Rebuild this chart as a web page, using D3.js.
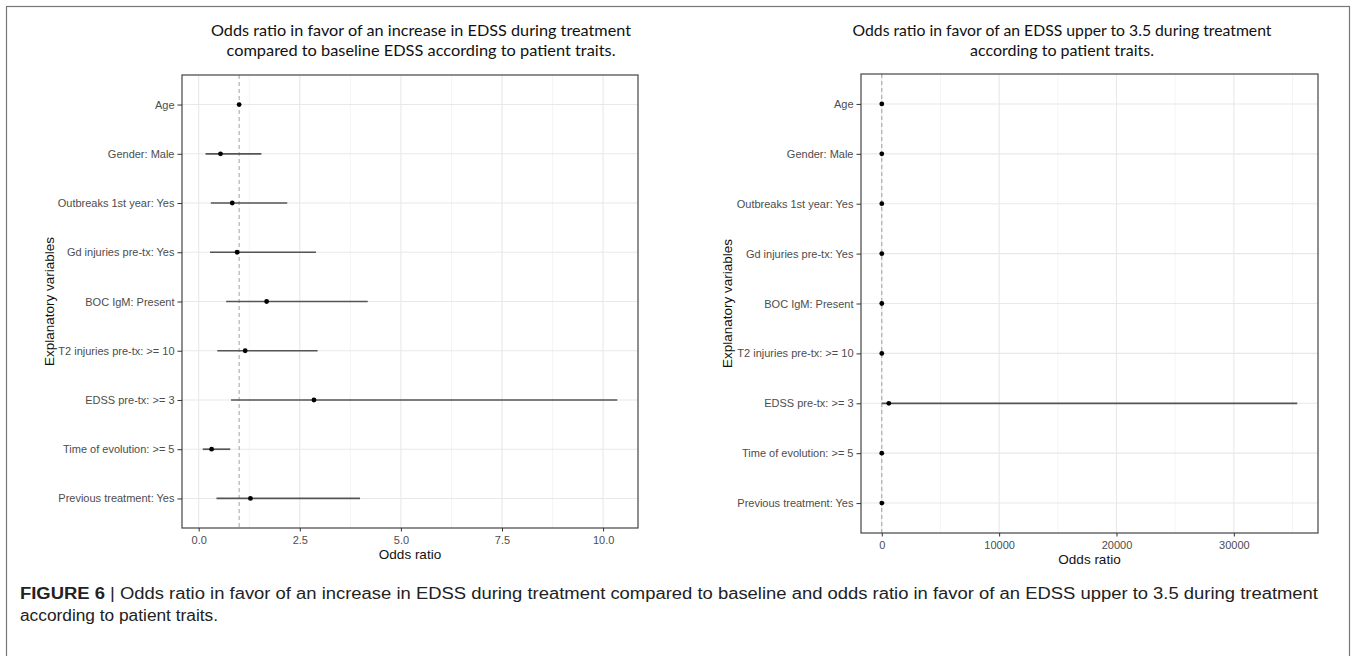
<!DOCTYPE html>
<html>
<head>
<meta charset="utf-8">
<script src="https://cdn.jsdelivr.net/npm/d3@7"></script>
<style>
  body { margin: 0; background: #fff; }
  svg { display: block; }
</style>
</head>
<body>
<div id="fig"></div>
<script>
// explanatory variables (top to bottom)
var variables = ["Age", "Gender: Male", "Outbreaks 1st year: Yes", "Gd injuries pre-tx: Yes",
                 "BOC IgM: Present", "T2 injuries pre-tx: >= 10", "EDSS pre-tx: >= 3",
                 "Time of evolution: >= 5", "Previous treatment: Yes"];

// left: increase in EDSS vs baseline
var orIncrease   = [1.00, 0.54, 0.83, 0.95, 1.68, 1.15, 2.85, 0.32, 1.28];
var lowIncrease  = [0.96, 0.17, 0.30, 0.28, 0.68, 0.46, 0.80, 0.10, 0.44];
var highIncrease = [1.04, 1.55, 2.19, 2.90, 4.18, 2.94, 10.35, 0.78, 3.99];
var ticksIncrease = [0, 2.5, 5, 7.5, 10];

// right: EDSS upper to 3.5
var orUpper   = [1.03, 0.60, 1.10, 1.20, 1.50, 1.30, 600, 0.40, 3.0];
var lowUpper  = [0.97, 0.05, 0.10, 0.10, 0.15, 0.12, 4.0, 0.02, 0.2];
var highUpper = [1.09, 6, 12, 15, 14, 13, 35400, 6, 220];
var ticksUpper = [0, 10000, 20000, 30000];

var titleIncrease = ["Odds ratio in favor of an increase in EDSS during treatment",
                     "compared to baseline EDSS according to patient traits."];
var titleUpper = ["Odds ratio in favor of an EDSS upper to 3.5 during treatment",
                  "according to patient traits."];

var W = 1357, H = 656;
var svg = d3.select('#fig').append('svg')
    .attr('width', W).attr('height', H);

// figure frame
svg.append('rect')
   .attr('x', 6.5).attr('y', 6.5)
   .attr('width', 1343).attr('height', 670)
   .attr('fill', 'none').attr('stroke', '#777').attr('stroke-width', 1.2);

var panels = [
    {title: titleIncrease, titleX: 421, titleLen: [420, 389],
     left: 182, right: 638, top: 75, bottom: 528, yTitleX: 49,
     or: orIncrease, lo: lowIncrease, hi: highIncrease,
     ticks: ticksIncrease, fmt: d3.format('.1f')},
    {title: titleUpper, titleX: 1062, titleLen: [419, null],
     left: 861, right: 1318, top: 74, bottom: 533, yTitleX: 727,
     or: orUpper, lo: lowUpper, hi: highUpper,
     ticks: ticksUpper, fmt: d3.format('d')}
];

panels.forEach(function(p) {
    var lo = d3.min(p.lo), hi = d3.max(p.hi);
    var pad = (hi - lo) * 0.05;
    var xScale = d3.scaleLinear().domain([lo - pad, hi + pad]).range([p.left, p.right]);
    var yScale = d3.scalePoint().domain(variables).range([p.top, p.bottom]).padding(0.6);

    // title
    p.title.forEach(function(t, i) {
        var tt = svg.append('text')
           .attr('x', p.titleX).attr('y', 36 + i * 20)
           .attr('text-anchor', 'middle')
           .style('font-family', 'Lato, "Open Sans", sans-serif')
           .style('font-size', '16px')
           .style('fill', '#111')
           .text(t);
        if (p.titleLen[i]) {
            tt.attr('textLength', p.titleLen[i]).attr('lengthAdjust', 'spacingAndGlyphs');
        }
    });

    var g = svg.append('g');

    // grid: minor then major
    var step = p.ticks[1] - p.ticks[0];
    var minors = d3.range(p.ticks[0] - step / 2, xScale.domain()[1], step)
                   .filter(function(v) { return v > xScale.domain()[0]; });
    g.selectAll('.minor').data(minors).join('line')
     .attr('x1', d => xScale(d)).attr('x2', d => xScale(d))
     .attr('y1', p.top).attr('y2', p.bottom)
     .attr('stroke', '#f2f2f2').attr('stroke-width', 0.8);
    g.selectAll('.vmajor').data(p.ticks).join('line')
     .attr('x1', d => xScale(d)).attr('x2', d => xScale(d))
     .attr('y1', p.top).attr('y2', p.bottom)
     .attr('stroke', '#e8e8e8').attr('stroke-width', 1.1);
    g.selectAll('.hmajor').data(variables).join('line')
     .attr('x1', p.left).attr('x2', p.right)
     .attr('y1', d => yScale(d)).attr('y2', d => yScale(d))
     .attr('stroke', '#e8e8e8').attr('stroke-width', 1.1);

    // reference line at OR = 1
    g.append('line')
     .attr('x1', xScale(1)).attr('x2', xScale(1))
     .attr('y1', p.top).attr('y2', p.bottom)
     .attr('stroke', '#a0a0a0').attr('stroke-width', 1)
     .attr('stroke-dasharray', '4,3');

    // confidence intervals and estimates
    g.selectAll('.ci').data(variables).join('line')
     .attr('x1', (d, i) => xScale(p.lo[i])).attr('x2', (d, i) => xScale(p.hi[i]))
     .attr('y1', d => yScale(d)).attr('y2', d => yScale(d))
     .attr('stroke', '#555').attr('stroke-width', 1.7);
    g.selectAll('.pt').data(variables).join('circle')
     .attr('cx', (d, i) => xScale(p.or[i])).attr('cy', d => yScale(d))
     .attr('r', 2.4).attr('fill', '#000');

    // panel border
    g.append('rect')
     .attr('x', p.left).attr('y', p.top)
     .attr('width', p.right - p.left).attr('height', p.bottom - p.top)
     .attr('fill', 'none').attr('stroke', '#444').attr('stroke-width', 1.2);

    // axes
    var yAxis = d3.axisLeft(yScale).tickSize(4.5).tickPadding(3);
    var xAxis = d3.axisBottom(xScale).tickValues(p.ticks).tickFormat(p.fmt)
                  .tickSize(3.5).tickPadding(4.5);
    var ya = svg.append('g').attr('transform', 'translate(' + p.left + ',0)').call(yAxis);
    var xa = svg.append('g').attr('transform', 'translate(0,' + p.bottom + ')').call(xAxis);
    [ya, xa].forEach(function(a) {
        a.select('.domain').remove();
        a.selectAll('.tick line').attr('stroke', '#333');
        a.selectAll('.tick text')
         .style('font-family', '"Liberation Sans", Arial, sans-serif')
         .style('font-size', '11px')
         .style('fill', '#4d4d4d');
    });

    // axis titles
    svg.append('text')
       .attr('x', (p.left + p.right) / 2).attr('y', p.bottom + 31)
       .attr('text-anchor', 'middle')
       .style('font-family', '"Liberation Sans", Arial, sans-serif')
       .style('font-size', '13.5px')
       .style('fill', '#111')
       .text('Odds ratio');
    svg.append('text')
       .attr('transform', 'translate(' + p.yTitleX + ',' + (p.top + p.bottom) / 2 + ') rotate(-90)')
       .attr('dy', '0.35em')
       .attr('text-anchor', 'middle')
       .style('font-family', '"Liberation Sans", Arial, sans-serif')
       .style('font-size', '13.5px')
       .style('fill', '#111')
       .text('Explanatory variables');
});

// caption
var cap = svg.append('g')
    .style('font-family', '"Liberation Sans Narrow", "Liberation Sans", Arial, sans-serif')
    .style('font-size', '16px')
    .style('fill', '#222');
var c1 = cap.append('text').attr('x', 20).attr('y', 599)
    .attr('textLength', 1298).attr('lengthAdjust', 'spacingAndGlyphs');
c1.append('tspan').style('font-weight', 'bold').text('FIGURE 6');
c1.append('tspan').text(' | Odds ratio in favor of an increase in EDSS during treatment compared to baseline and odds ratio in favor of an EDSS upper to 3.5 during treatment');
cap.append('text').attr('x', 20).attr('y', 621)
   .attr('textLength', 198).attr('lengthAdjust', 'spacingAndGlyphs')
   .text('according to patient traits.');
</script>
</body>
</html>
